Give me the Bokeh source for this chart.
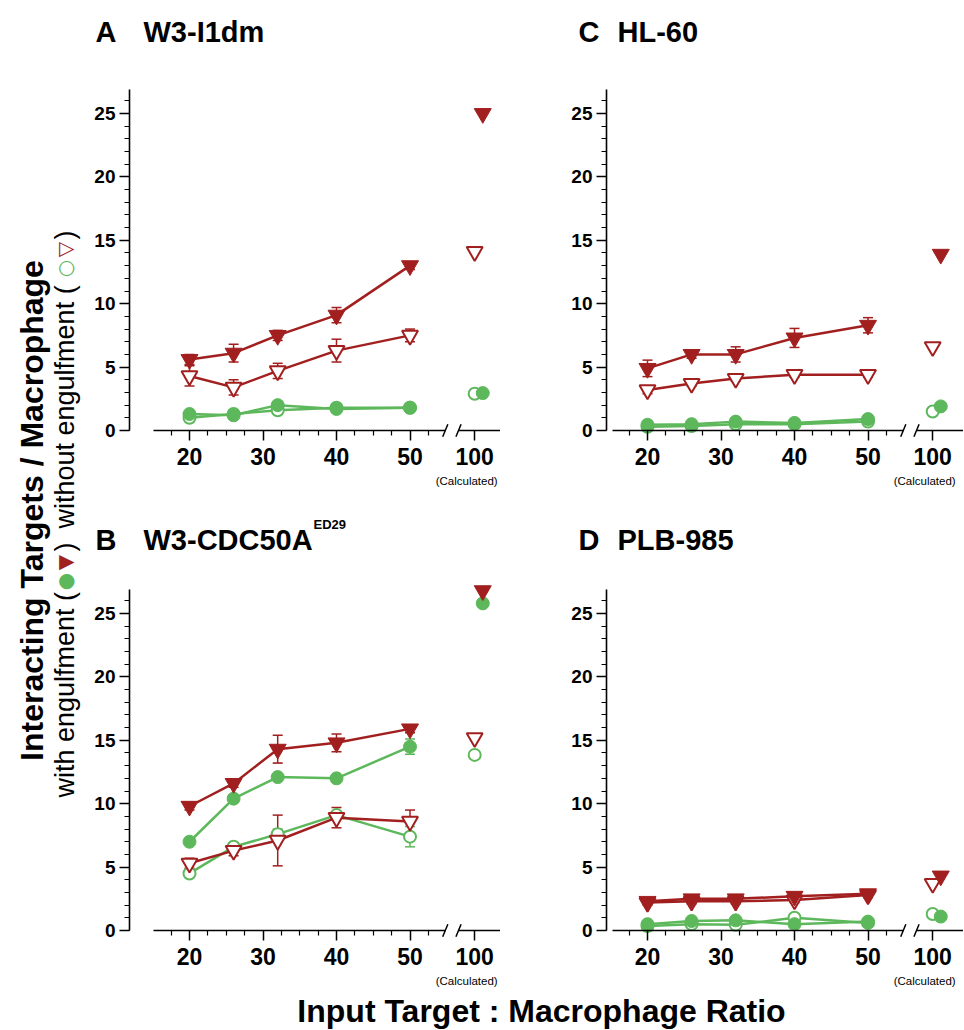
from math import pi
from bokeh.plotting import figure
from bokeh.models import Range1d, LinearAxis, FixedTicker, Label, ColumnDataSource, Whisker, TeeHead
from bokeh.layouts import row, column
from bokeh.embed import file_html
from bokeh.resources import INLINE
from bokeh.core.properties import value

# ---------------- data ----------------
ratios = [20, 26, 32, 40, 50]
calc_ratio = 100
x_major = [20, 30, 40, 50]
x_minor = [17.5, 22.5, 25, 27.5, 32.5, 35, 37.5, 42.5, 45, 47.5, 52.5]
y_major = [0, 5, 10, 15, 20, 25]
y_minor = list(range(0, 27))

# order of calc lists: [red_with, red_without, green_with, green_without]
a_red_with = [5.6, 6.1, 7.5, 9.1, 13.0]
a_red_with_err = [0.4, 0.7, 0.4, 0.6, 0.3]
a_red_without = [4.3, 3.4, 4.7, 6.3, 7.5]
a_red_without_err = [0.8, 0.6, 0.6, 0.9, 0.5]
a_green_with = [1.3, 1.2, 2.0, 1.7, 1.8]
a_green_with_err = [0.2, 0.2, 0.3, 0.2, 0.2]
a_green_without = [1.0, 1.3, 1.6, 1.8, 1.8]
a_green_without_err = [0.2, 0.3, 0.3, 0.3, 0.2]
a_calc = [25.0, 14.1, 2.95, 2.9]

b_red_with = [9.8, 11.6, 14.3, 14.8, 15.9]
b_red_with_err = [0.3, 0.3, 1.1, 0.7, 0.3]
b_red_without = [5.3, 6.3, 7.1, 8.9, 8.6]
b_red_without_err = [0.4, 0.4, 2.0, 0.8, 0.9]
b_green_with = [7.0, 10.4, 12.1, 12.0, 14.5]
b_green_with_err = [0.2, 0.3, 0.2, 0.2, 0.6]
b_green_without = [4.5, 6.6, 7.6, 9.1, 7.4]
b_green_without_err = [0.2, 0.3, 0.4, 0.3, 0.8]
b_calc = [26.8, 15.2, 25.8, 13.85]

c_red_with = [4.9, 6.0, 6.0, 7.3, 8.3]
c_red_with_err = [0.65, 0.3, 0.6, 0.75, 0.6]
c_red_without = [3.2, 3.7, 4.1, 4.4, 4.4]
c_red_without_err = [0.3, 0.2, 0.2, 0.2, 0.2]
c_green_with = [0.45, 0.5, 0.7, 0.6, 0.9]
c_green_with_err = [0.1, 0.1, 0.1, 0.1, 0.1]
c_green_without = [0.3, 0.35, 0.5, 0.5, 0.7]
c_green_without_err = [0.1, 0.1, 0.1, 0.1, 0.1]
c_calc = [13.9, 6.6, 1.9, 1.5]

d_red_with = [2.3, 2.5, 2.5, 2.7, 2.9]
d_red_with_err = [0.2, 0.2, 0.2, 0.2, 0.2]
d_red_without = [2.2, 2.3, 2.3, 2.4, 2.8]
d_red_without_err = [0.2, 0.2, 0.2, 0.2, 0.2]
d_green_with = [0.5, 0.75, 0.8, 0.5, 0.7]
d_green_with_err = [0.1, 0.1, 0.1, 0.1, 0.1]
d_green_without = [0.35, 0.5, 0.45, 1.0, 0.6]
d_green_without_err = [0.1, 0.1, 0.1, 0.1, 0.1]
d_calc = [4.3, 3.7, 1.1, 1.3]

# ---------------- style / layout constants ----------------
RED = "#A21F1F"
GREEN = "#5DB85C"
FONT = "Liberation Sans"
PX_X = 7.35          # pixels per ratio unit
PX_Y = 12.68         # pixels per y unit
Y_TOP = 26.9
POS100 = 58.8        # where the "100" column sits on the broken axis
BREAK_L, BREAK_R = 54.8, 56.6
DODGE = 1.1          # filled markers shifted right in the calculated column


def broken_x(v):
    return v if v <= 50 else POS100


def add_series(p, ys, errs, color, marker, filled, size):
    xs = [broken_x(v) for v in ratios]
    src = ColumnDataSource(dict(x=xs, y=ys,
                                lo=[y - e for y, e in zip(ys, errs)],
                                hi=[y + e for y, e in zip(ys, errs)]))
    p.add_layout(Whisker(source=src, base="x", lower="lo", upper="hi",
                         line_color=color, line_width=1.5,
                         upper_head=TeeHead(size=10, line_color=color, line_width=1.5),
                         lower_head=TeeHead(size=10, line_color=color, line_width=1.5)))
    p.line("x", "y", source=src, line_color=color, line_width=2.5)
    p.scatter("x", "y", source=src, marker=marker, size=size,
              fill_color=color if filled else "white", line_color=color,
              line_width=2 if not filled else 1)


def panel(px0, py0, w, h, x20, y0, yaxis_px, xaxis_px, letter, name, sup,
          letter_px, name_px, mid_py, series, calc):
    # page geometry -> data ranges (frame covers the whole canvas)
    to_x = lambda px: 20 + (px - x20) / PX_X
    to_y = lambda py: (y0 - py) / PX_Y
    x_start, x_end = to_x(px0), to_x(px0 + w)
    p = figure(width=w, height=h, x_range=Range1d(x_start, x_end),
               y_range=Range1d(to_y(py0 + h), to_y(py0)), min_border=0,
               output_backend="svg", toolbar_location=None,
               x_axis_type=None, y_axis_type=None)
    p.outline_line_color = None
    p.background_fill_color = "white"
    p.border_fill_color = "white"

    ya = LinearAxis(ticker=FixedTicker(ticks=y_major, minor_ticks=y_minor),
                    bounds=(0, Y_TOP), fixed_location=to_x(yaxis_px))
    xa = LinearAxis(ticker=FixedTicker(ticks=x_major, minor_ticks=x_minor),
                    bounds=(to_x(xaxis_px), BREAK_L), fixed_location=0)
    xb = LinearAxis(ticker=FixedTicker(ticks=[POS100]), bounds=(BREAK_R, x_end),
                    fixed_location=0, major_label_overrides={POS100: str(calc_ratio)})
    for ax in (ya, xa, xb):
        ax.axis_line_width = 1.6
        ax.major_tick_line_width = 1.5
        ax.minor_tick_line_width = 1.2
        ax.major_tick_in = 0
        ax.minor_tick_in = 0
        ax.major_tick_out = 10
        ax.minor_tick_out = 5
        ax.major_label_text_font = FONT
        ax.major_label_text_font_style = "bold"
        ax.major_label_text_color = "black"
    ya.major_label_text_font_size = "19px"
    ya.major_label_standoff = 4
    for ax in (xa, xb):
        ax.major_label_text_font_size = "23px"
        ax.major_label_standoff = 7
    p.add_layout(ya, "left")
    p.add_layout(xa, "below")
    p.add_layout(xb, "below")

    # axis break slashes
    p.segment(x0=[BREAK_L - 0.35, BREAK_R - 0.35], y0=[-0.5, -0.5],
              x1=[BREAK_L + 0.35, BREAK_R + 0.35], y1=[0.5, 0.5],
              line_color="black", line_width=1.5)

    # data series: green first, red on top
    (rw, rwe), (rwo, rwoe), (gw, gwe), (gwo, gwoe) = series
    add_series(p, gwo, gwoe, GREEN, "circle", False, 12)
    add_series(p, gw, gwe, GREEN, "circle", True, 13)
    add_series(p, rwo, rwoe, RED, "inverted_triangle", False, 16)
    add_series(p, rw, rwe, RED, "inverted_triangle", True, 17)

    # calculated column
    cx = broken_x(calc_ratio)
    p.scatter(x=[cx], y=[calc[3]], marker="circle", size=12, fill_color="white",
              line_color=GREEN, line_width=2)
    p.scatter(x=[cx + DODGE], y=[calc[2]], marker="circle", size=13,
              fill_color=GREEN, line_color=GREEN)
    p.scatter(x=[cx], y=[calc[1]], marker="inverted_triangle", size=16,
              fill_color="white", line_color=RED, line_width=2)
    p.scatter(x=[cx + DODGE], y=[calc[0]], marker="inverted_triangle", size=17,
              fill_color=RED, line_color=RED)

    p.add_layout(Label(x=cx - 8 / PX_X, y=to_y(y0 + 50), text="(Calculated)",
                       text_font=FONT, text_font_size="11.5px", text_align="center",
                       text_baseline="middle", text_color="black"))

    # titles
    for txt, px in ((letter, letter_px), (name, name_px)):
        p.add_layout(Label(x=to_x(px), y=to_y(mid_py), text=txt, text_font=FONT,
                           text_font_style="bold", text_font_size="29px",
                           text_baseline="middle", text_color="black"))
    if sup:
        p.add_layout(Label(x=to_x(name_px + 170), y=to_y(mid_py - 15), text=sup,
                           text_font=FONT, text_font_style="bold",
                           text_font_size="13px", text_baseline="middle",
                           text_color="black"))
    return p


series_a = [(a_red_with, a_red_with_err), (a_red_without, a_red_without_err),
            (a_green_with, a_green_with_err), (a_green_without, a_green_without_err)]
series_b = [(b_red_with, b_red_with_err), (b_red_without, b_red_without_err),
            (b_green_with, b_green_with_err), (b_green_without, b_green_without_err)]
series_c = [(c_red_with, c_red_with_err), (c_red_without, c_red_without_err),
            (c_green_with, c_green_with_err), (c_green_without, c_green_without_err)]
series_d = [(d_red_with, d_red_with_err), (d_red_without, d_red_without_err),
            (d_green_with, d_green_with_err), (d_green_without, d_green_without_err)]

pA = panel(90, 0, 410, 508, 189, 430, 129, 153, "A", "W3-I1dm", None, 95, 143, 31,
           series_a, a_calc)
pC = panel(500, 0, 463, 508, 647, 430, 606, 612, "C", "HL-60", None, 578, 617, 31,
           series_c, c_calc)
pB = panel(90, 508, 410, 484, 189, 930, 129, 153, "B", "W3-CDC50A", "ED29", 95, 143, 539,
           series_b, b_calc)
pD = panel(500, 508, 463, 484, 647, 930, 606, 612, "D", "PLB-985", None, 578, 617, 539,
           series_d, d_calc)

# ---------------- shared y label strip (page coordinates) ----------------
lab = figure(width=90, height=1029, x_range=Range1d(0, 90), y_range=Range1d(1029, 0),
             min_border=0, output_backend="svg", toolbar_location=None,
             x_axis_type=None, y_axis_type=None)
lab.outline_line_color = None
lab.text(x=[31], y=[510], text=["Interacting Targets / Macrophage"], angle=pi / 2,
         text_font=value(FONT), text_font_style="bold", text_font_size="32px",
         text_align="center", text_baseline="middle", text_color="black")
pieces = [
    ("with engulfment (", 797, "black", FONT, "27px", "left"),
    ("\u25CF", 581, GREEN, "DejaVu Sans", "20px", "center"),
    ("\u25BC", 562, RED, "DejaVu Sans", "20px", "center"),
    (")", 551, "black", FONT, "27px", "left"),
    ("without engulfment (", 528, "black", FONT, "27px", "left"),
    ("\u25CB", 268, GREEN, "DejaVu Sans", "20px", "center"),
    ("\u25BD", 249, RED, "DejaVu Sans", "20px", "center"),
    (")", 239, "black", FONT, "27px", "left"),
]
for txt, yy, col, fnt, fs, al in pieces:
    lab.text(x=[64], y=[yy], text=[txt], angle=pi / 2, text_font=value(fnt),
             text_font_size=fs, text_align=al, text_baseline="middle",
             text_color=col)

# ---------------- shared x label (page coordinates) ----------------
xl = figure(width=873, height=37, x_range=Range1d(90, 963), y_range=Range1d(1029, 992),
            min_border=0, output_backend="svg", toolbar_location=None,
            x_axis_type=None, y_axis_type=None)
xl.outline_line_color = None
xl.text(x=[541], y=[1010], text=["Input Target : Macrophage Ratio"],
        text_font=value(FONT), text_font_style="bold", text_font_size="32px",
        text_align="center", text_baseline="middle", text_color="black")

layout = row(lab, column(row(pA, pC), row(pB, pD), xl))
open("out.html", "w").write(file_html(layout, INLINE))
